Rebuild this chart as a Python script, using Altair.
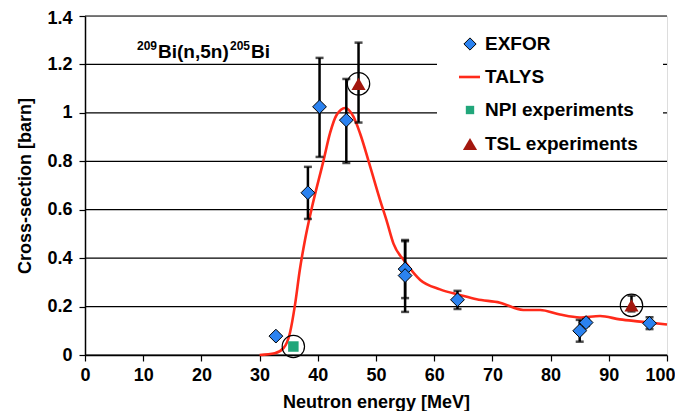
import altair as alt
import pandas as pd

# ---------------- data ----------------
exfor_e = [32.8, 38.3, 40.3, 44.9, 55.0, 55.0, 64.0, 85.0, 86.1, 97.0]
exfor_xs = [0.078, 0.67, 1.025, 0.97, 0.355, 0.328, 0.228, 0.10, 0.134, 0.131]
exfor_lo = [None, 0.562, 0.818, 0.793, 0.235, 0.178, 0.19, 0.055, 0.12, 0.107]
exfor_hi = [None, 0.777, 1.227, 1.14, 0.475, 0.47, 0.265, 0.145, 0.148, 0.156]

talys_e = [30.0, 32.6, 34.1, 35.2, 36.1, 36.9, 37.8, 38.9, 41.0, 42.1, 43.2,
           44.7, 46.1, 47.25, 49.0, 50.7, 51.8, 53.0, 55.0, 57.6, 61.0, 64.4,
           67.3, 71.3, 75.3, 78.2, 81.6, 85.0, 88.5, 91.9, 95.4, 100.0]
talys_xs = [0.0, 0.007, 0.028, 0.09, 0.21, 0.35, 0.475, 0.6, 0.805, 0.916, 0.99,
            1.02, 0.985, 0.916, 0.778, 0.64, 0.557, 0.46, 0.385, 0.31, 0.271, 0.248,
            0.23, 0.216, 0.186, 0.186, 0.167, 0.155, 0.161, 0.147, 0.138, 0.126]

npi_e = [35.8]
npi_xs = [0.035]

tsl_e = [47.0, 93.9]
tsl_xs = [1.12, 0.205]
tsl_lo = [0.96, 0.18]
tsl_hi = [1.29, 0.245]

x_ticks = [0, 10, 20, 30, 40, 50, 60, 70, 80, 90, 100]
y_ticks = [0, 0.2, 0.4, 0.6, 0.8, 1.0, 1.2, 1.4]

legend_labels = ["EXFOR", "TALYS", "NPI experiments", "TSL experiments"]
reaction_parts = ["209", "Bi(n,5n)", "205", "Bi"]

# ---------------- tables ----------------
exfor = pd.DataFrame({"e": exfor_e, "xs": exfor_xs, "lo": exfor_lo, "hi": exfor_hi})
exfor_err = exfor.dropna()
talys = pd.DataFrame({"e": talys_e, "xs": talys_xs})
npi = pd.DataFrame({"e": npi_e, "xs": npi_xs})
tsl = pd.DataFrame({"e": tsl_e, "xs": tsl_xs, "lo": tsl_lo, "hi": tsl_hi})
circled = pd.concat([npi, tsl[["e", "xs"]]], ignore_index=True)
grid_df = pd.DataFrame({"xs": y_ticks})
one = pd.DataFrame({"a": [0]})

FONT = "Liberation Sans"
W, H = 582, 339

xs = alt.Scale(domain=[0, 100], nice=False, zero=True)
ys = alt.Scale(domain=[0, 1.4], nice=False)

X = alt.X("e:Q", scale=xs, axis=alt.Axis(
    values=x_ticks, title="Neutron energy [MeV]", grid=False, tickSize=6,
    tickColor="black", domainColor="black", domainWidth=1.5, tickWidth=1.2,
    labelFont=FONT, labelFontSize=18,
    labelFontWeight="bold", labelColor="black", labelPadding=5, titleFont=FONT,
    titleFontSize=18, titleFontWeight="bold", titleColor="black", titlePadding=9,
    labelFlush=False,
    labelAlign={"condition": {"test": "datum.value === 100", "value": "right"},
                "value": "center"},
    labelOffset={"condition": {"test": "datum.value === 100", "value": 8},
                 "value": 0}))
Y = alt.Y("xs:Q", scale=ys, axis=alt.Axis(
    values=y_ticks, title="Cross-section [barn]", grid=False, tickSize=6,
    tickColor="black", domainColor="black", domainWidth=1.5, tickWidth=1.2,
    labelFont=FONT, labelFontSize=18,
    labelFontWeight="bold", labelColor="black", labelPadding=7, titleFont=FONT,
    titleFontSize=18, titleFontWeight="bold", titleColor="black", titlePadding=12,
    format="~g", labelFlush=False,
    labelOffset={"condition": {"test": "datum.value === 1.4", "value": 2},
                 "value": 0}))

axes = alt.Chart(talys).mark_point(opacity=0).encode(x=X, y=Y)

grid = alt.Chart(grid_df).mark_rule(color="black", strokeWidth=1.2).encode(
    y=alt.Y("xs:Q", scale=ys))

# legend background box (covers gridlines)
legend_bg = alt.Chart(one).mark_rect(color="white").encode(
    x=alt.value(352), x2=alt.value(578), y=alt.value(1), y2=alt.value(143))

talys_line = alt.Chart(talys).mark_line(
    color="#ff2a1a", strokeWidth=2.6, interpolate="monotone").encode(
    x=alt.X("e:Q", scale=xs), y=alt.Y("xs:Q", scale=ys))


def errbars(df):
    base = alt.Chart(df)
    rule = base.mark_rule(color="black", strokeWidth=2.5).encode(
        x=alt.X("e:Q", scale=xs), y=alt.Y("lo:Q", scale=ys), y2="hi:Q")
    cap_lo = base.mark_tick(color="black", orient="horizontal", size=8, thickness=2.5).encode(
        x=alt.X("e:Q", scale=xs), y=alt.Y("lo:Q", scale=ys))
    cap_hi = base.mark_tick(color="black", orient="horizontal", size=8, thickness=2.5).encode(
        x=alt.X("e:Q", scale=xs), y=alt.Y("hi:Q", scale=ys))
    return rule + cap_lo + cap_hi


exfor_pts = alt.Chart(exfor).mark_point(
    shape="diamond", filled=True, fill="#2b82f0", stroke="black", strokeWidth=1,
    size=190, opacity=1).encode(x=alt.X("e:Q", scale=xs), y=alt.Y("xs:Q", scale=ys))

npi_pts = alt.Chart(npi).mark_point(
    shape="square", filled=True, fill="#21a67a", size=110, opacity=1).encode(
    x=alt.X("e:Q", scale=xs), y=alt.Y("xs:Q", scale=ys))

tsl_pts = alt.Chart(tsl).mark_point(
    shape="triangle-up", filled=True, fill="#a3170e", size=200, opacity=1).encode(
    x=alt.X("e:Q", scale=xs), y=alt.Y("xs:Q", scale=ys))

circles = alt.Chart(circled).mark_point(
    shape="circle", filled=False, stroke="black", strokeWidth=1.2, size=500,
    opacity=1).encode(x=alt.X("e:Q", scale=xs), y=alt.Y("xs:Q", scale=ys))

# manual legend (pixel positions inside the plot area)
leg_y = [28, 61, 94, 128]


def leg_text(label, y):
    return alt.Chart(one).mark_text(
        text=label, align="left", baseline="middle", font=FONT, fontSize=19,
        fontWeight="bold", color="black").encode(x=alt.value(400), y=alt.value(y))


leg_items = [leg_text(l, y) for l, y in zip(legend_labels, leg_y)]
leg_d = alt.Chart(one).mark_point(
    shape="diamond", filled=True, fill="#2b82f0", stroke="black", strokeWidth=1,
    size=150, opacity=1).encode(x=alt.value(385), y=alt.value(leg_y[0]))
leg_l = alt.Chart(one).mark_rule(color="#ff2a1a", strokeWidth=2.6).encode(
    x=alt.value(374), x2=alt.value(395), y=alt.value(leg_y[1]))
leg_s = alt.Chart(one).mark_point(
    shape="square", filled=True, fill="#21a67a", size=70, opacity=1).encode(
    x=alt.value(385), y=alt.value(leg_y[2]))
leg_t = alt.Chart(one).mark_point(
    shape="triangle-up", filled=True, fill="#a3170e", size=200, opacity=1).encode(
    x=alt.value(385), y=alt.value(leg_y[3]))

# reaction label with superscripts
lab_x = [52, 73, 145, 166]
lab_y = [30, 36, 30, 36]
lab_fs = [12, 19, 12, 19]
lab_layers = [
    alt.Chart(one).mark_text(
        text=t, align="left", baseline="middle", font=FONT, fontSize=fs,
        fontWeight="bold", color="black").encode(x=alt.value(px), y=alt.value(py))
    for t, px, py, fs in zip(reaction_parts, lab_x, lab_y, lab_fs)
]

chart = alt.layer(
    axes, grid, legend_bg, *lab_layers, talys_line,
    errbars(exfor_err), errbars(tsl), exfor_pts, npi_pts, tsl_pts, circles,
    *leg_items, leg_d, leg_l, leg_s, leg_t,
).properties(
    width=W, height=H,
    autosize=alt.AutoSizeParams(type="none"),
    padding={"left": 77, "top": 8, "right": 8, "bottom": 56},
).configure_view(stroke="#888888", strokeWidth=1.5).configure(background="white")

chart.save("out.html", embed_options={"renderer": "svg", "actions": False})
